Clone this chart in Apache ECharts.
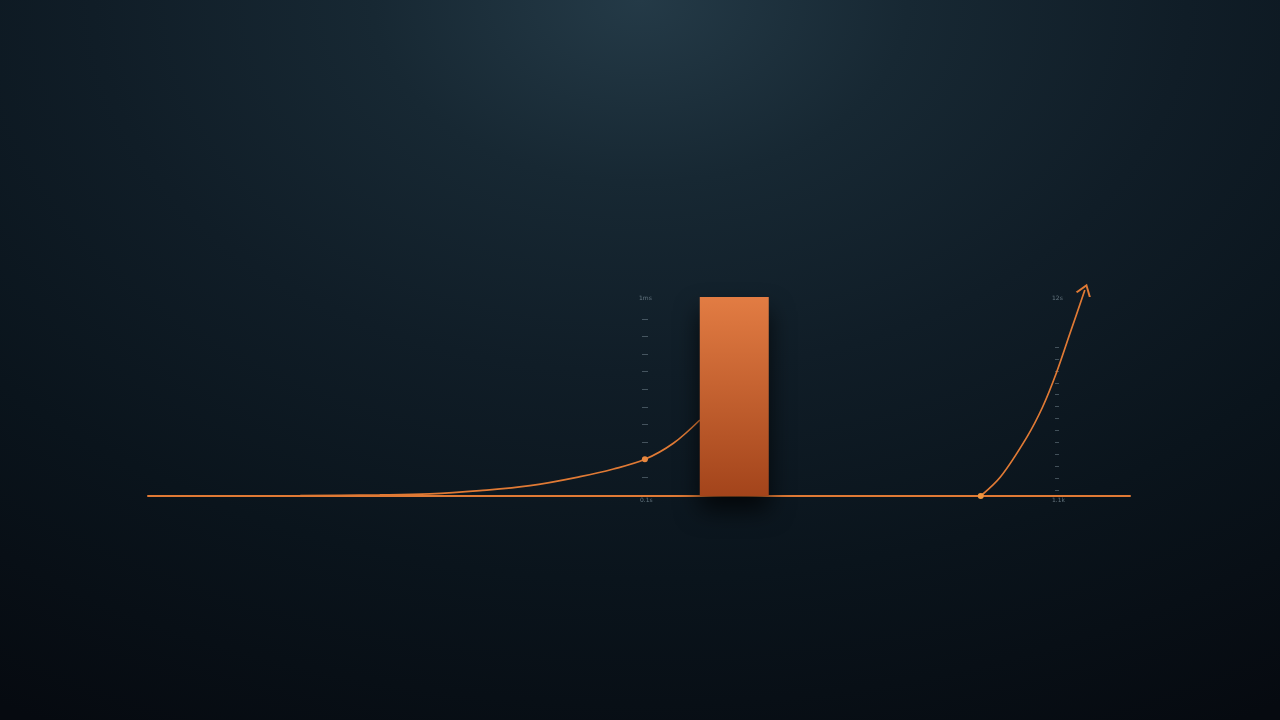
<!DOCTYPE html>
<html>
<head>
	<meta charset="utf-8">
	<title>chart</title>
	<script src="https://cdn.jsdelivr.net/npm/echarts@6/dist/echarts.min.js"></script>
	<style>
        html,body{
            height:100%;
            width:100%;
            margin:0;
            padding:0;
            background:#070c12;
        }
        #chart{
            width:1280px;
            height:720px;
            background: radial-gradient(ellipse 95% 115% at 50% 0%, #243a47 0%, #172833 22%, #101d27 45%, #0a141c 70%, #060a10 100%);
        }
    </style>
</head>
<body>
	<div id="chart"></div>
	<script type="text/javascript">
			var chart = echarts.init(document.getElementById('chart'));
			var ORANGE = '#e07a35';

			// curve before the bar: [x, y]
			var riseLeft = [[0,0],[15.5,0.2],[23.6,0.5],[28.7,1.0],[33.8,2.6],[38.9,5.0],[44.0,9.4],[47.4,13.1],[50.6,17.8],[53.5,25.6],[56.2,36.9]];
			var markedIndex = 8;//dot on the left curve
			// the bar
			var barX = 59.7;
			var barValue = 96.6;
			// curve after the bar
			var riseRight = [[84.8,0],[86.8,9.2],[89.5,28.6],[91.1,43.2],[92.5,59.7],[93.9,79.1],[95.4,100]];
			// small scales
			var leftTicks = 9;
			var rightTicks = 12;
			var leftLabels = ['1ms','0.1s'];
			var rightLabels = ['12s','1.1k'];

			var leftData = riseLeft.map(function(p,i){
				if(i === markedIndex){
					return {value:p, symbol:'circle', symbolSize:6, itemStyle:{color:'#e8873f'}};
				}
				return {value:p, symbol:'none'};
			});
			var rightData = riseRight.map(function(p,i){
				if(i === 0){
					return {value:p, symbol:'circle', symbolSize:6, itemStyle:{color:'#f0953f'}};
				}
				if(i === riseRight.length-1){
					return {value:p, symbol:'path://M0,10 L7,0 L14,10', symbolSize:[14,10], symbolRotate:-19,
						itemStyle:{color:'rgba(0,0,0,0)', borderColor:ORANGE, borderWidth:1.8}};
				}
				return {value:p, symbol:'none'};
			});

			var labelStyle = {fill:'rgba(170,190,200,0.55)', fontSize:6, fontFamily:'DejaVu Sans'};
			var scaleAxis = function(idx, len){
				return {
					type:'value', gridIndex:idx, min:0, max:(idx===1?leftTicks:rightTicks), interval:1,
					axisLine:{show:false},
					axisTick:{show:true, length:len, lineStyle:{color:'rgba(170,190,200,0.35)', width:1}},
					axisLabel:{show:false},
					splitLine:{show:false}
				};
			};

			var option = {
				backgroundColor:'transparent',
				grid:[
					{left:148, right:150, top:290, bottom:224},
					{left:648, width:10, top:319, height:158},
					{left:1059, width:10, top:347, height:143}
				],
				xAxis:[
					{type:'value', gridIndex:0, min:0, max:100,
						axisLine:{onZero:true, lineStyle:{color:ORANGE, width:2}},
						axisTick:{show:false}, axisLabel:{show:false}, splitLine:{show:false}},
					{type:'value', gridIndex:1, show:false},
					{type:'value', gridIndex:2, show:false}
				],
				yAxis:[
					{type:'value', gridIndex:0, min:0, max:100, show:false},
					scaleAxis(1, 6),
					scaleAxis(2, 4)
				],
				graphic:[
					{type:'text', left:639, top:295, style:Object.assign({text:leftLabels[0]}, labelStyle)},
					{type:'text', left:640, top:497, style:Object.assign({text:leftLabels[1]}, labelStyle)},
					{type:'text', left:1052, top:295, style:Object.assign({text:rightLabels[0]}, labelStyle)},
					{type:'text', left:1052, top:497, style:Object.assign({text:rightLabels[1]}, labelStyle)}
				],
				series:[
					{
						type:'line', smooth:0.35, data:leftData, z:3,
						lineStyle:{color:ORANGE, width:1.7}
					},
					{
						type:'bar', data:[[barX, barValue]], barWidth:69, z:4,
						itemStyle:{
							color:new echarts.graphic.LinearGradient(0,0,0,1,[
								{offset:0, color:'#e27c43'},
								{offset:1, color:'#a3441b'}
							]),
							shadowBlur:24, shadowOffsetY:14, shadowColor:'rgba(0,0,0,0.7)'
						}
					},
					{
						type:'line', smooth:0.3, data:rightData, z:3,
						lineStyle:{color:ORANGE, width:1.7}
					}
				]
			};

			chart.setOption(option);
		</script>
</body>
</html>
